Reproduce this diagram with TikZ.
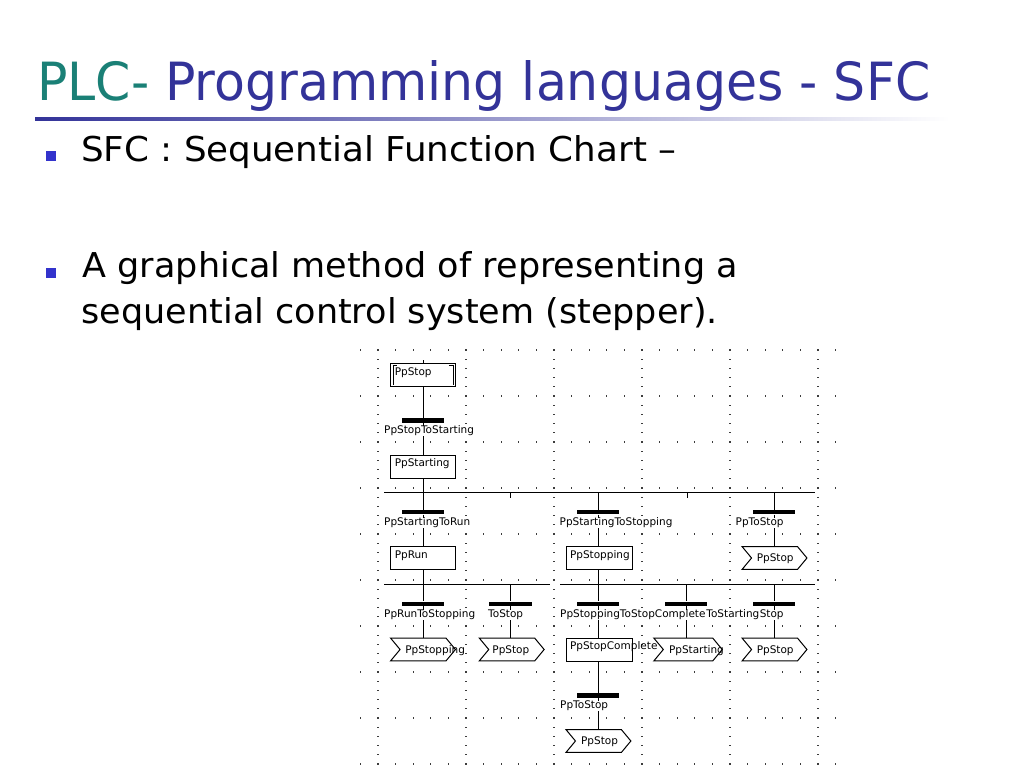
\documentclass[tikz,border=0pt]{standalone}
\usepackage{fontspec}
\usepackage{graphicx}
\setmainfont{DejaVu Sans}
\newfontfamily\sfcfont{DejaVu Sans}
\usetikzlibrary{calc}
\definecolor{titleteal}{RGB}{26,128,118}
\definecolor{titleblue}{RGB}{51,51,153}
\definecolor{bulletblue}{RGB}{51,51,204}
\definecolor{griddot}{RGB}{60,60,60}
\newcommand\sfcjump[1]{%
  \filldraw[jumpline] (#1.north west) -- ([xshift=-9.5pt]#1.north east) -- (#1.east)
    -- ([xshift=-9.5pt]#1.south east) -- (#1.south west) -- ([xshift=9.5pt]#1.west) -- cycle;}
\begin{document}
\begin{tikzpicture}[x=1pt,y=-1pt,
  stepbox/.style={draw, line width=1pt, fill=white, minimum width=64.5pt, minimum height=23pt, inner sep=0pt},
  jumpbox/.style={minimum width=64.5pt, minimum height=22.5pt, inner sep=0pt},
  trbar/.style={fill=black, minimum width=42.5pt, minimum height=4.5pt, inner sep=0pt},
  sfctext/.style={font=\sfcfont\fontsize{10.5pt}{12pt}\selectfont, inner sep=0pt, text height=7.6pt, text depth=2.4pt},
  trlabel/.style={sfctext, fill=white, inner xsep=0.5pt},
  link/.style={line width=1pt},
  jumpline/.style={line width=1pt, fill=white},
  bulletsq/.style={fill=bulletblue, minimum size=10pt, inner sep=0pt},
  bodytext/.style={anchor=base west, inner sep=0pt}]
\useasboundingbox[fill=white] (0,0) rectangle (1024,768);

% ---------- title and bullets ----------
\node[bodytext] (title) at (37,100) {\resizebox{893pt}{40pt}{\textcolor{titleteal}{PLC-}\ \textcolor{titleblue}{Programming languages - SFC}}};
\shade[left color=titleblue, middle color=titleblue!65!white, right color=white] (35,117) rectangle (950,120);

\node[bulletsq] (bul1) at (51,156) {};
\node[bodytext] (b1) at (81,161.5) {\resizebox{595pt}{26pt}{SFC : Sequential Function Chart –}};
\node[bulletsq] (bul2) at (51,272.5) {};
\node[bodytext] (b2a) at (82.5,277.5) {\resizebox{655pt}{26pt}{A graphical method of representing a}};
\node[bodytext] (b2b) at (81.5,323) {\resizebox{636pt}{26pt}{sequential control system (stepper).}};

% ---------- dotted grid ----------
\foreach \r in {0,...,9}
  \foreach \c in {0,...,27}
    \fill[griddot] ({360.4+17.6*\c-0.65},{350+46*\r-0.65}) rectangle ++(1.3,1.3);
\foreach \v in {0,...,5}
  \foreach \k in {0,...,45}
    \fill[griddot] ({378+88*\v-0.65},{350+9.2*\k-0.65}) rectangle ++(1.3,1.3);

% ---------- steps, transitions, jumps ----------
\node[stepbox] (sStop) at (423,375) {};
\node[trbar] (t1) at (423,420.5) {};
\node[stepbox] (sStarting) at (423,466.7) {};
\node[trbar] (t2a) at (423,512.2) {};
\node[trbar] (t2b) at (598,512.2) {};
\node[trbar] (t2c) at (774,512.2) {};
\node[stepbox] (sRun) at (423,558) {};
\node[stepbox, minimum width=66pt] (sStopping) at (599,558) {};
\node[jumpbox] (jTop) at (774.5,558) {};
\node[trbar] (t3a) at (423,603.8) {};
\node[trbar] (t3b) at (510.5,603.8) {};
\node[trbar] (t3c) at (598,603.8) {};
\node[trbar] (t3d) at (686,603.8) {};
\node[trbar] (t3e) at (774,603.8) {};
\node[jumpbox] (jA) at (423,649.5) {};
\node[jumpbox] (jB) at (511.7,649.5) {};
\node[stepbox, minimum width=66pt] (sComp) at (599,649.5) {};
\node[jumpbox, minimum width=68pt] (jC) at (688,649.5) {};
\node[jumpbox] (jD) at (774.5,649.5) {};
\node[trbar] (t4) at (598,695.5) {};
\node[jumpbox] (jE) at (598.4,741) {};

% initial step inner frame
\draw[line width=0.8pt] ([xshift=6.5pt,yshift=-2.8pt]sStop.north west) -- ([xshift=2.8pt,yshift=-2.8pt]sStop.north west) -- ([xshift=2.8pt,yshift=2pt]sStop.south west);
\draw[line width=0.8pt] ([xshift=-7pt,yshift=-2.8pt]sStop.north east) -- ([xshift=-2.8pt,yshift=-2.8pt]sStop.north east) -- ([xshift=-2.8pt,yshift=2.5pt]sStop.south east);

% ---------- connectors ----------
\coordinate (topstub) at (423,360);
\draw[link] (topstub) -- (sStop.north);
\draw[link] (sStop) -- (t1) -- (sStarting);
\draw[link] (sStarting) -- (t2a) -- (sRun);
\coordinate (d1L) at (384,492.5);
\coordinate (d1R) at (815,492.5);
\draw[link] (d1L) -- (d1R);
\coordinate (tk1) at (510,492.5);
\coordinate (tk2) at (687,492.5);
\draw[link] (tk1) -- ++(0,5);
\draw[link] (tk2) -- ++(0,5);
\draw[link] (t2b |- d1L) -- (t2b) -- (t2b |- sStopping.north);
\draw[link] (t2c |- d1L) -- (t2c) -- (t2c |- jTop.north);

\coordinate (d2L) at (384,584);
\coordinate (d2M) at (550,584);
\coordinate (d3M) at (560,584);
\coordinate (d3R) at (815,584);
\draw[link] (d2L) -- (d2M);
\draw[link] (d3M) -- (d3R);
\draw[link] (sRun) -- (t3a) -- (t3a |- jA.north);
\draw[link] (t3b |- d2L) -- (t3b) -- (t3b |- jB.north);
\draw[link] (t3c |- sStopping.south) -- (t3c) -- (t3c |- sComp.north);
\draw[link] (t3d |- d3M) -- (t3d) -- (t3d |- jC.north);
\draw[link] (t3e |- d3M) -- (t3e) -- (t3e |- jD.north);
\draw[link] (t4 |- sComp.south) -- (t4) -- (t4 |- jE.north);

% jump shapes
\sfcjump{jTop}
\sfcjump{jA}
\sfcjump{jB}
\sfcjump{jC}
\sfcjump{jD}
\sfcjump{jE}

% ---------- texts ----------
\node[sfctext, anchor=north west] (sStopT) at ([xshift=4.3pt,yshift=-4.3pt]sStop.north west) {PpStop};
\node[sfctext, anchor=north west] (sStartingT) at ([xshift=4.3pt,yshift=-4.3pt]sStarting.north west) {PpStarting};
\node[sfctext, anchor=north west] (sRunT) at ([xshift=4.3pt,yshift=-4.3pt]sRun.north west) {PpRun};
\node[sfctext, anchor=north west] (sStoppingT) at ([xshift=4.3pt,yshift=-4.3pt]sStopping.north west) {PpStopping};
\node[sfctext, anchor=north west] (sCompT) at ([xshift=4.3pt,yshift=-4.3pt]sComp.north west) {PpStopComplete};

\node[sfctext, anchor=base west] (jTopT) at ([xshift=14.5pt,yshift=-3.8pt]jTop.west) {PpStop};
\node[sfctext, anchor=base west] (jAT) at ([xshift=14.5pt,yshift=-3.8pt]jA.west) {PpStopping};
\node[sfctext, anchor=base west] (jBT) at ([xshift=13pt,yshift=-3.8pt]jB.west) {PpStop};
\node[sfctext, anchor=base west] (jCT) at ([xshift=15pt,yshift=-3.8pt]jC.west) {PpStarting};
\node[sfctext, anchor=base west] (jDT) at ([xshift=14.5pt,yshift=-3.8pt]jD.west) {PpStop};
\node[sfctext, anchor=base west] (jET) at ([xshift=15pt,yshift=-3.8pt]jE.west) {PpStop};

\node[trlabel, anchor=base west] (l1) at (383.5,433.5) {PpStopToStarting};
\node[trlabel, anchor=base west] (l2a) at (383.5,525.5) {PpStartingToRun};
\node[trlabel, anchor=base west] (l2b) at (559,525.5) {PpStartingToStopping};
\node[trlabel, anchor=base west] (l2c) at (735,525.5) {PpToStop};
\node[trlabel, anchor=base west] (l3a) at (383.5,617.5) {PpRunToStopping};
\node[trlabel, anchor=base west] (l3b) at (487.5,617.5) {ToStop};
\node[trlabel, anchor=base west] (l3c) at (559.5,617.5) {PpStoppingToStopComplete};
\node[trlabel, anchor=base west, inner xsep=0pt] (l3d) at (l3c.base east) {ToStarting};
\node[trlabel, anchor=base west, inner xsep=0pt] (l3e) at (l3d.base east) {Stop};
\node[trlabel, anchor=base west] (l4) at (559.5,708.5) {PpToStop};
\end{tikzpicture}
\end{document}
